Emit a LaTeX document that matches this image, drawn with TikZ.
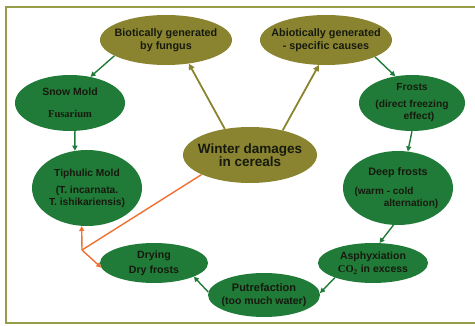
\documentclass[tikz,border=0pt]{standalone}
\usepackage{fontspec}
\setmainfont{Liberation Sans}
\newfontfamily\timesfont{Liberation Serif}
\usetikzlibrary{shapes.geometric,arrows.meta}
\definecolor{leaf}{RGB}{32,122,56}
\definecolor{olivenode}{RGB}{138,132,48}
\definecolor{framecol}{RGB}{150,156,72}
\definecolor{rust}{RGB}{240,112,48}
\definecolor{inktext}{RGB}{22,26,14}
\tikzset{
  oval/.style={ellipse,inner sep=-12pt,text=inktext,align=center},
  cause/.style={oval,fill=olivenode,font=\fontsize{10.8}{13}\selectfont\bfseries},
  damage/.style={oval,fill=leaf,font=\fontsize{10.5}{13}\selectfont\bfseries},
  greenarrow/.style={draw=leaf,line width=1.4pt,-{Triangle[length=5pt,width=5pt]}},
  olivearrow/.style={draw=olivenode,line width=1.8pt,-{Triangle[length=6pt,width=6pt]}},
  orangearrow/.style={draw=rust,line width=1.4pt}
}
\begin{document}
\begin{tikzpicture}[x=1pt,y=-1pt]
  \useasboundingbox (0,0) rectangle (475,326);
  % frame
  \draw[framecol,line width=2.2pt] (475,7) -- (6,7) -- (6,323) -- (475,323);
  % nodes
  \node[cause,minimum width=132pt,minimum height=50pt](bio) at (166,40) {Biotically generated\\by fungus};
  \node[cause,minimum width=132pt,minimum height=50pt](abio) at (326,40) {Abiotically generated\\- specific causes};
  \node[cause,minimum width=134pt,minimum height=56pt,font=\fontsize{13.5}{13}\selectfont\bfseries](winter) at (250,155) {Winter damages\\in cereals};
  \node[damage,minimum width=110pt,minimum height=56pt,font=\fontsize{10.5}{22}\selectfont\bfseries](snow) at (70,103) {Snow Mold\\{\timesfont\bfseries Fusarium}};
  \node[damage,minimum width=110pt,minimum height=76pt,font=\fontsize{10.2}{12}\selectfont\bfseries](tiph) at (87,188) {Tiphulic Mold\\[5pt](T. incarnata.\\T. ishikariensis)};
  \node[damage,minimum width=106pt,minimum height=56pt,font=\fontsize{10.2}{12}\selectfont\bfseries](frosts) at (412,103) {Frosts\\[5pt](direct freezing\\\hspace*{14pt}effect)};
  \node[damage,minimum width=110pt,minimum height=74pt,font=\fontsize{10}{12}\selectfont\bfseries](deep) at (398,188) {\fontsize{10.8}{12}\selectfont Deep frosts\\[7pt]\hspace*{-28pt}(warm - cold\\\hspace*{26pt}alternation)};
  \node[damage,minimum width=110pt,minimum height=40pt](asph) at (373,263) {Asphyxiation\\{\timesfont\bfseries CO\textsubscript{2}} in excess};
  \node[damage,minimum width=112pt,minimum height=44pt](putr) at (264,295) {\fontsize{11}{13}\selectfont Putrefaction\\(too much water)};
  \node[damage,minimum width=108pt,minimum height=40pt,font=\fontsize{10.6}{15}\selectfont\bfseries](dry) at (154,263) {Drying\\Dry frosts};
  \coordinate(fork) at (82,250);
  % connectors
  \draw[olivearrow] (winter.134) -- (bio.-46);
  \draw[olivearrow] (winter.37) -- (abio.-106);
  \draw[greenarrow] (bio.-163) -- (snow.52);
  \draw[greenarrow] (snow.-80) -- (tiph.108);
  \draw[greenarrow] (abio.-19) -- (frosts.122);
  \draw[greenarrow] (frosts.-90) -- (deep.75);
  \draw[greenarrow] (deep.-97) -- (asph.72);
  \draw[greenarrow] (asph.-159) -- (putr.2);
  \draw[greenarrow] (putr.177) -- (dry.-19);
  \draw[orangearrow] (winter.-158) -- (fork);
  \draw[orangearrow,-{Triangle[length=5pt,width=5pt]}] (fork) -- (tiph.-98);
  \draw[orangearrow,-{Triangle[length=5pt,width=5pt]}] (fork) -- (dry.185);
\end{tikzpicture}
\end{document}
